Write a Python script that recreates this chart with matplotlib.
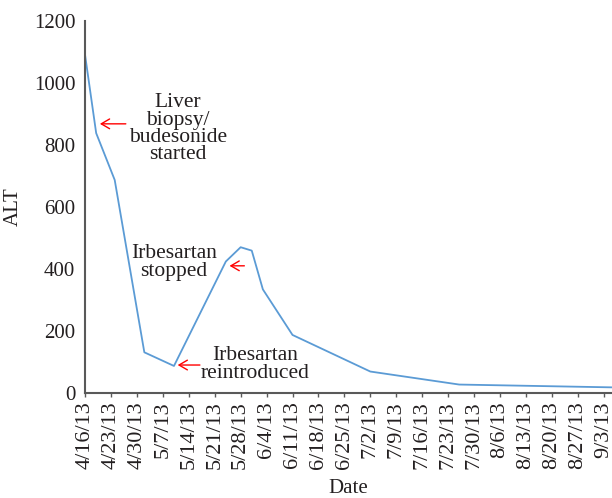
import numpy as np
import pandas as pd
import matplotlib
matplotlib.use('Agg')
import matplotlib.pyplot as plt

plt.rcParams['font.family'] = ['Liberation Serif', 'DejaVu Serif']

# ALT measurements
dates = ['2013-04-16', '2013-04-19', '2013-04-24', '2013-05-02', '2013-05-10',
         '2013-05-24', '2013-05-28', '2013-05-31', '2013-06-03', '2013-06-11',
         '2013-07-02', '2013-07-26', '2013-09-05']
alt = [1090, 838, 687, 131, 87, 424, 470, 459, 334, 187, 69, 27, 18]

tick_dates = ['2013-04-16', '2013-04-23', '2013-04-30', '2013-05-07', '2013-05-14',
              '2013-05-21', '2013-05-28', '2013-06-04', '2013-06-11', '2013-06-18',
              '2013-06-25', '2013-07-02', '2013-07-09', '2013-07-16', '2013-07-23',
              '2013-07-30', '2013-08-06', '2013-08-13', '2013-08-20', '2013-08-27',
              '2013-09-03']
tick_labels = ['4/16/13', '4/23/13', '4/30/13', '5/7/13', '5/14/13', '5/21/13',
               '5/28/13', '6/4/13', '6/11/13', '6/18/13', '6/25/13', '7/2/13',
               '7/9/13', '7/16/13', '7/23/13', '7/30/13', '8/6/13', '8/13/13',
               '8/20/13', '8/27/13', '9/3/13']
y_ticks = [0, 200, 400, 600, 800, 1000, 1200]

# annotations: text, text centre (date, value), arrow tail, arrow tip
notes = [
    ('Liver\nbiopsy/\nbudesonide\nstarted', ('2013-05-11', 852),
     ('2013-04-27', 868), ('2013-04-20', 868)),
    ('Irbesartan\nstopped', ('2013-05-10', 421),
     ('2013-05-29', 410), ('2013-05-25', 410)),
    ('Irbesartan\nreintroduced', ('2013-06-01', 92),
     ('2013-05-17', 90), ('2013-05-11', 90)),
]

text_color = '#231f20'
axis_color = '#595959'

fig = plt.figure(figsize=(6.12, 4.98), dpi=100)
ax = fig.add_axes([0.139, 0.211, 0.861, 0.747])

x = pd.to_datetime(dates)
ax.plot(x, alt, color='#5b9bd5', linewidth=1.3)

ax.set_xlim(pd.Timestamp('2013-04-16'), pd.Timestamp('2013-09-05 06:00'))
ax.set_ylim(0, 1200)
ax.set_xticks(pd.to_datetime(tick_dates))
ax.set_xticklabels(tick_labels, rotation=90, fontsize=16, color=text_color)
ax.set_yticks(y_ticks)
ax.set_yticklabels([str(v) for v in y_ticks], fontsize=15, color=text_color)

ax.tick_params(axis='y', length=0, pad=7)
ax.tick_params(axis='x', length=3, width=1, color=axis_color, pad=3)

for side in ['top', 'right']:
    ax.spines[side].set_visible(False)
for side in ['left', 'bottom']:
    ax.spines[side].set_color(axis_color)
    ax.spines[side].set_linewidth(1.5)

ax.set_xlabel('Date', fontsize=15, color=text_color, labelpad=7)
ax.set_ylabel('ALT', fontsize=15, color=text_color, labelpad=8)

for label, (tx, ty), (ax0, ay0), (ax1, ay1) in notes:
    ax.text(pd.Timestamp(tx), ty, label, ha='center', va='center',
            fontsize=15.5, color=text_color, linespacing=0.88)
    ax.annotate('', xy=(pd.Timestamp(ax1), ay1), xytext=(pd.Timestamp(ax0), ay0),
                arrowprops=dict(arrowstyle='->,head_length=0.6,head_width=0.35',
                                color='red', lw=1.0, shrinkA=0, shrinkB=0))

plt.savefig('out.png', dpi=100)
plt.close()
